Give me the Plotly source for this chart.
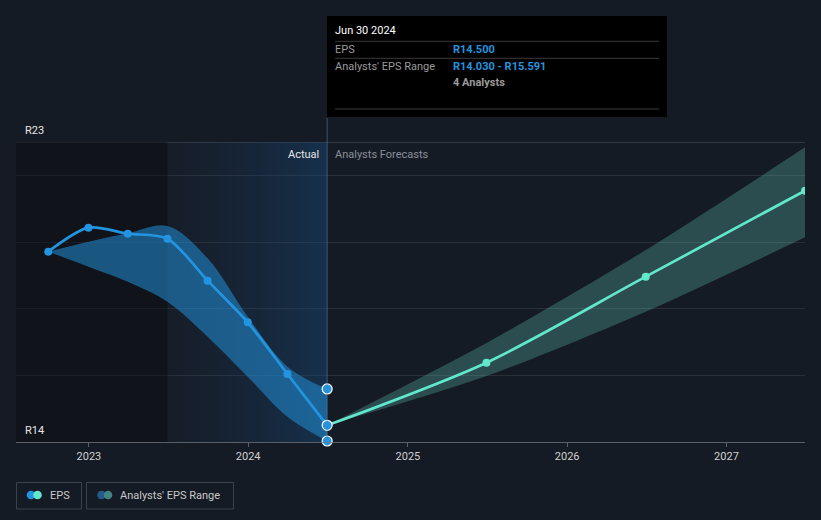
import plotly.graph_objects as go

# ---------------- data ----------------
actual_dates = ["2022-09-30", "2022-12-31", "2023-03-31", "2023-06-30",
                "2023-09-30", "2023-12-31", "2024-03-31", "2024-06-30"]
actual_eps = [19.71, 20.43, 20.25, 20.10, 18.84, 17.59, 16.04, 14.50]
actual_high = [19.71, 20.01, 20.26, 20.48, 19.51, 17.76, 16.26, 15.591]
actual_low = [19.71, 19.26, 18.81, 18.21, 17.16, 15.96, 14.76, 14.030]

fc_dates = ["2024-06-30", "2025-06-30", "2026-06-30", "2027-06-30"]
fc_eps = [14.50, 16.38, 18.96, 21.54]
fc_high = [14.50, 16.97, 19.76, 22.84]
fc_low = [14.50, 15.98, 17.91, 20.14]

now_date = "2024-06-30"
now_eps = 14.500
now_low = 14.030
now_high = 15.591
highlight_start = "2023-06-30"
x_range = ["2022-07-18", "2027-06-30"]
y_min, y_max = 14, 23
year_ticks = ["2023-01-01", "2024-01-01", "2025-01-01", "2026-01-01", "2027-01-01"]
year_labels = ["2023", "2024", "2025", "2026", "2027"]

# ---------------- styling ----------------
BG = "#151b24"
BLUE = "#2394df"
AQUA = "#62e6cc"
W, H = 821, 520
L, R, T, B = 16, 16, 142, 78
PW, PH = W - L - R, H - T - B


def px(x):
    return (x - L) / PW


def py(y):
    return (H - B - y) / PH


fig = go.Figure()

# background shading of past regions
fig.add_trace(go.Scatter(
    x=[x_range[0], highlight_start, highlight_start, x_range[0], x_range[0]],
    y=[y_min, y_min, y_max, y_max, y_min],
    fill="toself", fillcolor="rgba(10,12,16,0.45)", line=dict(width=0),
    mode="lines", hoverinfo="skip", showlegend=False))
fig.add_trace(go.Scatter(
    x=[highlight_start, now_date, now_date, highlight_start, highlight_start],
    y=[y_min, y_min, y_max, y_max, y_min],
    fill="toself",
    fillgradient=dict(type="horizontal",
                      colorscale=[[0, "rgba(30,60,100,0.06)"],
                                  [1, "rgba(22,78,130,0.42)"]]),
    line=dict(width=0), mode="lines", hoverinfo="skip", showlegend=False))

# actual range band
fig.add_trace(go.Scatter(x=actual_dates, y=actual_low, mode="lines",
                         line=dict(width=0, shape="spline", smoothing=1.0),
                         hoverinfo="skip", showlegend=False))
fig.add_trace(go.Scatter(x=actual_dates, y=actual_high, mode="lines",
                         line=dict(width=0, shape="spline", smoothing=1.0),
                         fill="tonexty", fillcolor="rgba(35,148,223,0.52)",
                         hoverinfo="skip", showlegend=False))

# forecast range band
fig.add_trace(go.Scatter(x=fc_dates, y=fc_low, mode="lines",
                         line=dict(width=0, shape="spline", smoothing=0.8),
                         hoverinfo="skip", showlegend=False))
fig.add_trace(go.Scatter(x=fc_dates, y=fc_high, mode="lines",
                         line=dict(width=0, shape="spline", smoothing=0.8),
                         fill="tonexty", fillcolor="rgba(100,210,190,0.28)",
                         hoverinfo="skip", showlegend=False))

# EPS actual line
fig.add_trace(go.Scatter(x=actual_dates, y=actual_eps, mode="lines+markers",
                         line=dict(color=BLUE, width=2.7, shape="spline", smoothing=0.8),
                         marker=dict(color=BLUE, size=8),
                         hoverinfo="skip", showlegend=False))
# forecast line
fig.add_trace(go.Scatter(x=fc_dates, y=fc_eps, mode="lines+markers",
                         line=dict(color=AQUA, width=2.7, shape="spline", smoothing=0.8),
                         marker=dict(color=AQUA, size=8),
                         hoverinfo="skip", showlegend=False))

# highlighted current points
fig.add_trace(go.Scatter(x=[now_date] * 3, y=[now_high, now_eps, now_low],
                         mode="markers", cliponaxis=False,
                         marker=dict(color=BLUE, size=10, line=dict(color="white", width=1.2)),
                         hoverinfo="skip", showlegend=False))

shapes = []
# top boundary line
shapes.append(dict(type="line", xref="paper", yref="y", x0=0, x1=1, y0=y_max, y1=y_max,
                   line=dict(color="rgba(120,125,135,0.6)", width=1), layer="below"))
# vertical now line
shapes.append(dict(type="line", xref="x", yref="paper", x0=now_date, x1=now_date,
                   y0=0, y1=py(118), line=dict(color="rgba(90,130,170,0.55)", width=1)))
# tooltip box
shapes.append(dict(type="rect", xref="paper", yref="paper", x0=px(327), x1=px(667),
                   y0=py(117), y1=py(16), fillcolor="#000000", line=dict(width=0)))
for yy in (41.3, 58.3, 109):
    shapes.append(dict(type="line", xref="paper", yref="paper", x0=px(335), x1=px(659),
                       y0=py(yy), y1=py(yy), line=dict(color="#3a3a3a", width=1)))
# legend boxes
shapes.append(dict(type="rect", xref="paper", yref="paper", x0=px(16.5), x1=px(81.5),
                   y0=py(509), y1=py(482.5), line=dict(color="#3c424d", width=1)))
shapes.append(dict(type="rect", xref="paper", yref="paper", x0=px(86.5), x1=px(233.5),
                   y0=py(509), y1=py(482.5), line=dict(color="#3c424d", width=1)))
for cx, col in ((31, BLUE), (37.5, AQUA), (101.5, "#24598a"), (108, "#3f8480")):
    r = 4.3
    shapes.append(dict(type="circle", xref="paper", yref="paper",
                       x0=px(cx - r), x1=px(cx + r), y0=py(495 + r), y1=py(495 - r),
                       fillcolor=col, line=dict(width=0)))

FONT = "Roboto, Arial, sans-serif"
ann = []


def add_text(x, y, text, color, size=11, anchor="left", bold=False):
    shift = -2 if anchor == "left" else 2
    ann.append(dict(xref="paper", yref="paper", x=px(x + shift), y=py(y),
                    text=("<b>%s</b>" % text) if bold else text,
                    showarrow=False, xanchor=anchor, yanchor="middle",
                    font=dict(family=FONT, size=size, color=color)))


add_text(24.5, 130, "R23", "#e6e6e6", 11)
add_text(24.5, 430, "R14", "#e6e6e6", 11)
add_text(318.5, 154, "Actual", "#e6e6e6", 11, anchor="right")
add_text(335, 154, "Analysts Forecasts", "#8a8f98", 11)
add_text(335, 31, "Jun 30 2024", "#ffffff", 11)
add_text(335, 49.5, "EPS", "#9a9a9a", 11)
add_text(453, 49.5, "R14.500", BLUE, 11, bold=True)
add_text(335, 66.5, "Analysts' EPS Range", "#9a9a9a", 11)
add_text(453, 66.5, "R14.030 - R15.591", BLUE, 11, bold=True)
add_text(453, 83, "4 Analysts", "#9a9a9a", 11, bold=True)
add_text(50, 495, "EPS", "#c8c8c8", 11)
add_text(120, 495, "Analysts' EPS Range", "#c8c8c8", 11)

fig.update_layout(
    width=W, height=H,
    margin=dict(l=L, r=R, t=T, b=B),
    paper_bgcolor=BG, plot_bgcolor=BG,
    showlegend=False, hovermode=False,
    shapes=shapes, annotations=ann,
    font=dict(family=FONT, color="#cccccc", size=11),
)
fig.update_xaxes(type="date", range=x_range, tickvals=year_ticks, ticktext=year_labels,
                 showgrid=False, zeroline=False, showline=True,
                 linecolor="rgba(120,125,135,0.7)", linewidth=1,
                 ticks="outside", ticklen=4, tickcolor="rgba(120,125,135,0.7)",
                 tickfont=dict(family=FONT, size=11, color="#d0d0d0"))
fig.update_yaxes(range=[y_min, y_max], tickvals=[16, 18, 20, 22], showticklabels=False,
                 showgrid=True, gridcolor="rgba(255,255,255,0.09)", gridwidth=1,
                 zeroline=False, showline=False, fixedrange=True)

fig.write_html("out.html", config={"displayModeBar": False},
               post_script="document.body.style.margin='0';document.body.style.padding='0';"
                           "document.body.style.background='%s';" % BG)
